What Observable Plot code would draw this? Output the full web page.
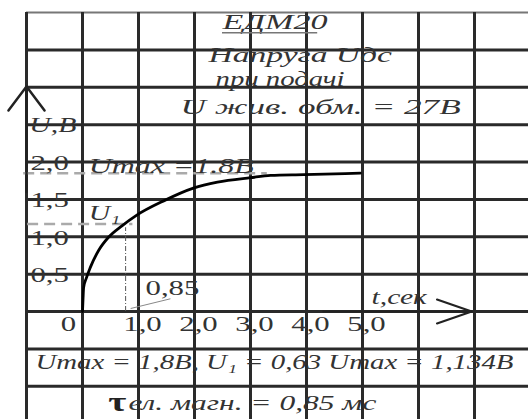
<!DOCTYPE html>
<html><head><meta charset="utf-8">
<script src="https://cdn.jsdelivr.net/npm/d3@7"></script>
<script src="https://cdn.jsdelivr.net/npm/@observablehq/plot@0.6"></script>
<style>body{margin:0;background:#fff}</style>
</head><body><div id="chart"></div>
<script>
// ---- data ----
const curveT = [0, 0.01, 0.02, 0.07, 0.14, 0.29, 0.46, 0.71, 0.95, 1.45, 1.98, 2.41, 3.0, 3.36, 3.95, 4.96];
const curveU = [0, 0.18, 0.32, 0.45, 0.59, 0.82, 0.99, 1.15, 1.28, 1.48, 1.65, 1.73, 1.79, 1.82, 1.83, 1.85];
const uMaxLevel = 1.85;
const u1Level = 1.17;
const tauT = 0.77;
const xTicks = [1, 2, 3, 4, 5];
const xTickLabels = ["1,0", "2,0", "3,0", "4,0", "5,0"];
const yTicks = [0.5, 1.0, 1.5, 2.0];
const yTickLabels = ["0,5", "1,0", "1,5", "2,0"];
const gridT = [-1, 0, 1, 2, 3, 4, 5, 6, 7, 8];
const gridU = [-1.5, -1, -0.5, 0, 0.5, 1, 1.5, 2, 2.5, 3, 3.5];
const gridTop = [4];
const titleLines = ["ЕДМ20", "Напруга Uдс", "при подачі", "U жив. обм. = 27В"];
const yAxisLabel = "U,В";
const xAxisLabel = "t,сек";
const umaxNote = "Umax =1.8В";
const u1Note = "U₁";
const tauNote = "0,85";
const originLabel = "0";
const formulaLine = "Umax = 1,8В, U₁ = 0,63 Umax = 1,134В";
const tauSymbol = "τ";
const tauLine = "ел. магн. = 0,85 мс";

const C = d => d;
const FONT = "Liberation Serif";
const ink = "#333";
const it = {fontFamily: FONT, fontSize: 22, fontStyle: "italic", fill: ink, textAnchor: "start", text: C};
const up = {fontFamily: FONT, fontSize: 22, fill: ink, text: C};

// horizontal stretch of the lettering (style)
const stretch = new Map([
  [titleLines[0], 1.55], [titleLines[1], 1.6], [titleLines[2], 1.37], [titleLines[3], 1.6],
  [umaxNote, 1.45], [formulaLine, 1.31], [tauLine, 1.43]
]);

const curve = curveT.map((t, i) => ({t, u: curveU[i]}));

const chart = Plot.plot({
  width: 528, height: 419, margin: 0,
  style: {fontFamily: FONT, background: "white"},
  x: {domain: [-82/56, 446/56], axis: null},
  y: {domain: [(311-419)/74.75, 311/74.75], axis: null},
  marks: [
    // grid
    Plot.ruleY(gridTop, {x1: -1, x2: 8.2, stroke: "#777", strokeWidth: 2}),
    Plot.ruleY(gridU, {x1: -1, x2: 8.2, stroke: "#2a2a2a", strokeWidth: 3}),
    Plot.ruleX(gridT, {y1: -1.6, y2: 4, stroke: "#2a2a2a", strokeWidth: 3}),
    // dashed guide lines
    Plot.ruleY([uMaxLevel], {x1: -1.05, x2: 3.3, stroke: "#aaa", strokeWidth: 2.5, strokeDasharray: "11,6"}),
    Plot.ruleY([u1Level], {x1: -0.98, x2: 0.9, stroke: "#aaa", strokeWidth: 2.5, strokeDasharray: "11,6"}),
    Plot.ruleX([tauT], {y1: 0, y2: u1Level - 0.05, stroke: "#555", strokeWidth: 1, strokeDasharray: "5,2,1,2"}),
    Plot.link([tauNote], {x1: 0.86, y1: 0.04, x2: 1.57, y2: 0.17, stroke: "#888", strokeWidth: 1}),
    // axis arrows
    Plot.arrow([yAxisLabel], {x1: -1, y1: 1.6, x2: -1, y2: 3.01, stroke: "#222", strokeWidth: 2.5, headLength: 18, headAngle: 74}),
    Plot.arrow([xAxisLabel], {x1: 4.3, y1: 0, x2: 6.95, y2: 0, stroke: "#222", strokeWidth: 2.2, headLength: 25, headAngle: 38}),
    // curve
    Plot.line(curve, {x: "t", y: "u", stroke: "#000", strokeWidth: 2.8, curve: "monotone-x"}),
    // tick labels
    Plot.text(yTickLabels, {...up, x: -0.93, y: (d, i) => yTicks[i], dy: 1, textAnchor: "start"}),
    Plot.text(xTickLabels, {...up, x: (d, i) => xTicks[i], y: 0, dx: 4, dy: 12}),
    Plot.text([originLabel], {...up, x: -0.25, y: 0, dy: 12}),
    Plot.text([tauNote], {...up, x: 1.125, y: 0.32, textAnchor: "start"}),
    // titles
    Plot.text([titleLines[0]], {...it, x: 2.5, y: 3.87}),
    Plot.ruleY([3.73], {x1: 2.5, x2: 4.2, stroke: "#777", strokeWidth: 1.5}),
    Plot.text([titleLines[1]], {...it, fontSize: 21, x: 2.25, y: 3.43}),
    Plot.text([titleLines[2]], {...it, fontSize: 21, x: 2.375, y: 3.11}),
    Plot.text([titleLines[3]], {...it, x: 1.75, y: 2.73}),
    // annotations
    Plot.text([yAxisLabel], {...it, x: -0.95, y: 2.49}),
    Plot.text([xAxisLabel], {...it, x: 5.16, y: 0.19}),
    Plot.text([umaxNote], {...it, x: 0.11, y: 1.95}),
    Plot.text([u1Note], {...it, x: 0.11, y: 1.32}),
    Plot.text([formulaLine], {...it, x: -0.84, y: -0.68}),
    Plot.text([tauSymbol], {fontFamily: FONT, fontSize: 28, fontWeight: "bold", fill: "#222", text: C, textAnchor: "start", x: 0.46, y: -1.21}),
    Plot.text([tauLine], {...it, x: 0.82, y: -1.23})
  ]
});

chart.querySelectorAll("text").forEach(el => {
  const g = el.closest("[font-style]");
  const italic = g && g.getAttribute("font-style") === "italic";
  const k = stretch.get(el.textContent) || (italic ? 1.35 : 1.4);
  const tr = el.getAttribute("transform");
  if (tr) el.setAttribute("transform", tr + ` scale(${k},1)`);
  else {
    const x = +el.getAttribute("x") || 0, y = +el.getAttribute("y") || 0;
    el.setAttribute("transform", `translate(${x},${y}) scale(${k},1) translate(${-x},${-y})`);
  }
});
document.getElementById("chart").appendChild(chart);
</script>
</body></html>
